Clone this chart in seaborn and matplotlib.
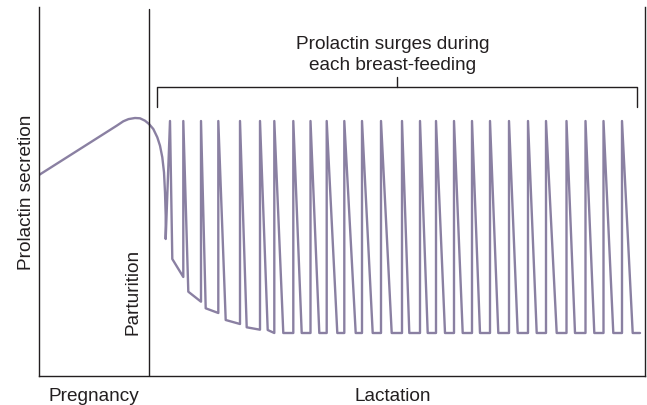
import seaborn as sns
from matplotlib import pyplot as plt
from matplotlib import transforms
import pandas as pd

# pregnancy curve (x = time, y = prolactin, arbitrary units)
preg_x = [0, 77.7, 84.3, 89.5, 96, 101, 106, 110, 114.3, 118.3, 121, 123.3, 125, 126, 126.7, 126.7]
preg_y = [201, 250.3, 254.7, 256.9, 258, 257.7, 255.3, 252, 247, 238.7, 230.3, 218.7, 203.7, 183.7, 160.3, 137]

# lactation: surge peaks, end of each fast fall, level just before next surge
peak_x = [131, 144.3, 162, 179.3, 201, 221, 235.3, 254.3, 271.5, 287.7, 305.3, 323, 342,
          363, 381, 397, 415, 433, 451, 470, 489, 507, 527.5, 546.5, 564.5, 583]
peak_y = [255, 255, 255, 255, 255, 255, 255, 255, 255, 255, 255, 255, 255,
          255, 255, 255, 255, 255, 255, 255, 255, 255, 255, 255, 255, 255]
fall_x = [133.3, 149.3, 166.7, 186.7, 207.7, 228.7, 244.3, 262.7, 280.3, 298.3, 316.7, 333.7, 352.7,
          370.3, 388.7, 406, 423.7, 441, 459.3, 478.7, 497.7, 517.7, 536, 555.3, 574.3, 593.7]
fall_y = [117, 84.3, 67.7, 56, 48.7, 46, 43, 43, 43, 43, 43, 43, 43,
          43, 43, 43, 43, 43, 43, 43, 43, 43, 43, 43, 43, 43]
decl_y = [99, 74.3, 63, 52, 46.3, 43, 43, 43, 43, 43, 43, 43, 43,
          43, 43, 43, 43, 43, 43, 43, 43, 43, 43, 43, 43, 43]
end_x = 601

parturition_x = 110
bracket_x = [117.7, 598.3]
bracket_y = [269, 288.7, 299]

xs = list(preg_x)
ys = list(preg_y)
for i in range(len(peak_x)):
    nxt = peak_x[i + 1] if i + 1 < len(peak_x) else end_x
    xs += [peak_x[i], fall_x[i], nxt]
    ys += [peak_y[i], fall_y[i], decl_y[i]]
df = pd.DataFrame({"time": xs, "prolactin": ys})

sns.set_style("white")
plt.rcParams["font.family"] = ["Liberation Sans", "DejaVu Sans"]
ink = "#231f20"
fs = 13.7

fig = plt.figure(figsize=(6.47, 4.06), dpi=100)
ax = fig.add_axes([39 / 647, 29 / 406, 606 / 647, 369 / 406])

sns.lineplot(data=df, x="time", y="prolactin", sort=False, estimator=None,
             color="#8a80a2", lw=1.7, ax=ax)

ax.set_xlim(0, 606)
ax.set_ylim(0, 369)
ax.set_xticks([])
ax.set_yticks([])
ax.set_xlabel("")
ax.set_ylabel("Prolactin secretion", fontsize=fs, color=ink, labelpad=3)
for side in ["left", "bottom", "right"]:
    ax.spines[side].set_color(ink)
    ax.spines[side].set_linewidth(1.0)
ax.spines["top"].set_visible(False)

ax.axvline(parturition_x, ymax=0.995, color=ink, lw=1.0)
ax.text(parturition_x - 16, 42, "Parturition", rotation=90, ha="center", va="bottom",
        fontsize=fs, color=ink)

# bracket over the surges
bx0, bx1 = bracket_x
mid = (bx0 + bx1) / 2
ax.plot([bx0, bx0, bx1, bx1], [bracket_y[0], bracket_y[1], bracket_y[1], bracket_y[0]],
        color=ink, lw=1.0)
ax.plot([mid, mid], [bracket_y[1], bracket_y[2]], color=ink, lw=1.0)
ax.text(mid - 4, 322, "Prolactin surges during\neach breast-feeding", ha="center", va="center",
        fontsize=fs, color=ink, linespacing=1.38)

trans = transforms.blended_transform_factory(ax.transData, ax.transAxes)
ax.text(parturition_x / 2, -0.052, "Pregnancy", transform=trans, ha="center", va="center",
        fontsize=fs, color=ink)
ax.text((parturition_x + 606) / 2 - 4, -0.052, "Lactation", transform=trans, ha="center",
        va="center", fontsize=fs, color=ink)

fig.savefig("out.png", dpi=100)
